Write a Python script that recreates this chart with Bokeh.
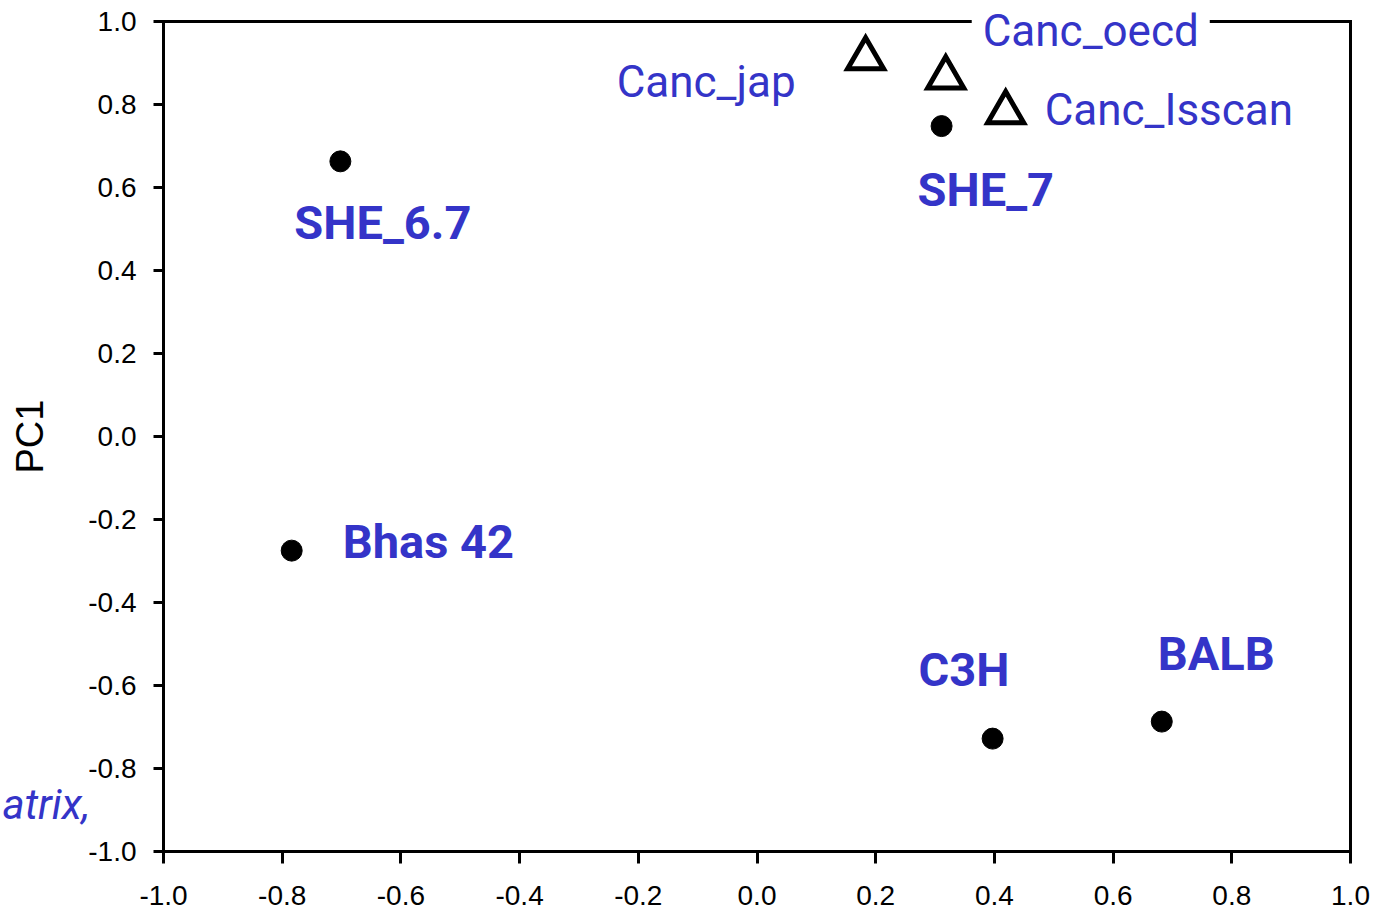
from bokeh.plotting import figure
from bokeh.models import Label, LinearAxis, FixedTicker, Range1d
from bokeh.embed import file_html
from bokeh.resources import INLINE

# ---- data ----
strain_names = ["SHE_6.7", "SHE_7", "Bhas 42", "C3H", "BALB"]
strain_pc2 = [-0.702, 0.311, -0.784, 0.397, 0.682]
strain_pc1 = [0.663, 0.748, -0.275, -0.728, -0.687]

db_names = ["Canc_jap", "Canc_oecd", "Canc_Isscan"]
db_pc2 = [0.183, 0.318, 0.419]
db_pc1 = [0.911, 0.865, 0.781]

x_ticks = [-1.0, -0.8, -0.6, -0.4, -0.2, 0.0, 0.2, 0.4, 0.6, 0.8, 1.0]
y_ticks = [-1.0, -0.8, -0.6, -0.4, -0.2, 0.0, 0.2, 0.4, 0.6, 0.8, 1.0]
tick_labels = ["-1.0", "-0.8", "-0.6", "-0.4", "-0.2", "0.0", "0.2", "0.4", "0.6", "0.8", "1.0"]
y_title = "PC1"
stray_text = "atrix,"

# axis box limits and the visible window around it
AX_MIN, AX_MAX = -1.0, 1.0
W, H = 1387, 913
LEFT, RIGHT, TOP, BOTTOM = 163, 37, 21, 62
xs = (AX_MAX - AX_MIN) / (W - LEFT - RIGHT)
ys = (AX_MAX - AX_MIN) / (H - TOP - BOTTOM)
x_view = (AX_MIN - LEFT * xs, AX_MAX + RIGHT * xs)
y_view = (AX_MIN - BOTTOM * ys, AX_MAX + TOP * ys)

# label pixel offsets (dx right, dy up) and alignment
BASE_FIX = 18
strain_off = [(-46, -79), (-24, -81), (51, -9), (-74, 51), (-4, 50)]
db_off = [(-70, -42, "right"), (26, 29, "left"), (39, -16, "left")]

BLUE = "#3434c8"
LABEL_FONT = "Roboto"

p = figure(width=W, height=H, output_backend="svg", toolbar_location=None,
           x_range=Range1d(*x_view), y_range=Range1d(*y_view),
           min_border=0, min_border_left=0, min_border_right=0, min_border_top=0, min_border_bottom=0,
           outline_line_color=None, background_fill_color="white", border_fill_color="white")
p.grid.visible = False

for ax, ticks in ((p.xaxis[0], x_ticks), (p.yaxis[0], y_ticks)):
    ax.ticker = FixedTicker(ticks=ticks)
    ax.major_label_overrides = {t: s for t, s in zip(ticks, tick_labels)}
    ax.fixed_location = AX_MIN
    ax.bounds = (AX_MIN, AX_MAX)
    ax.minor_tick_line_color = None
    ax.axis_line_width = 3
    ax.axis_line_cap = "square"
    ax.major_tick_line_width = 3
    ax.major_tick_in = 0
    ax.major_label_text_font = "Liberation Sans"
    ax.major_label_text_font_size = "28px"
    ax.major_label_text_color = "black"
    ax.axis_line_color = "black"
    ax.major_tick_line_color = "black"

p.xaxis.major_tick_out = 12
p.xaxis.major_label_standoff = 22
p.yaxis.major_tick_out = 10
p.yaxis.major_label_standoff = 17
p.yaxis.axis_label = y_title
p.yaxis.axis_label_text_font = "Liberation Sans"
p.yaxis.axis_label_text_font_size = "38px"
p.yaxis.axis_label_text_font_style = "normal"
p.yaxis.axis_label_text_color = "black"
p.yaxis.axis_label_standoff = 34

for side in ("above", "right"):
    a = LinearAxis(ticker=FixedTicker(ticks=[]), major_tick_out=0, major_tick_in=0,
                   minor_tick_out=0, minor_tick_in=0, major_label_standoff=0,
                   axis_line_width=3, axis_line_color="black", axis_line_cap="square",
                   major_label_text_font_size="0px",
                   fixed_location=AX_MAX, bounds=(AX_MIN, AX_MAX))
    p.add_layout(a, side)

p.scatter(strain_pc2, strain_pc1, marker="circle", size=21, fill_color="black", line_color="black")
p.scatter(db_pc2, db_pc1, marker="triangle", size=36, fill_color="white", line_color="black",
          line_width=5, line_join="miter")

for name, x, y, (dx, dy) in zip(strain_names, strain_pc2, strain_pc1, strain_off):
    p.add_layout(Label(x=x, y=y, x_offset=dx, y_offset=dy + BASE_FIX, text=name, text_color=BLUE,
                       text_font=LABEL_FONT, text_font_style="bold", text_font_size="47px",
                       text_baseline="alphabetic", text_align="left"))

for name, x, y, (dx, dy, al) in zip(db_names, db_pc2, db_pc1, db_off):
    lab = Label(x=x, y=y, x_offset=dx, y_offset=dy + BASE_FIX, text=name, text_color=BLUE,
                text_font=LABEL_FONT, text_font_style="normal", text_font_size="44px",
                text_baseline="alphabetic", text_align=al, level="overlay")
    if name == "Canc_oecd":
        lab.background_fill_color = "white"
        lab.padding = 11
    p.add_layout(lab)

# stray fragment of surrounding text at the left edge of the picture
p.add_layout(Label(x=x_view[0], y=AX_MIN + 29 * ys, x_offset=2, y_offset=BASE_FIX, text=stray_text,
                   text_color=BLUE, text_font=LABEL_FONT, text_font_style="italic",
                   text_font_size="42px", text_baseline="alphabetic", text_align="left"))

open("out.html", "w").write(file_html(p, INLINE))
